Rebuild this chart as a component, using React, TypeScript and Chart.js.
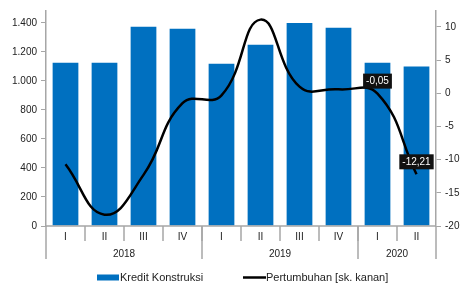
import React, { useEffect, useRef } from "react";
import { Chart, registerables } from "chart.js";

Chart.register(...registerables);

const quarters = ["I", "II", "III", "IV", "I", "II", "III", "IV", "I", "II"];
const years = ["2018", "2019", "2020"];
const yearSpans = [4, 4, 2];
const kredit = [1125, 1125, 1373, 1360, 1119, 1250, 1400, 1366, 1125, 1100];
const pertumbuhan = [-10.7, -18.3, -12.3, -1.5, -0.3, 11.1, 1.0, 0.6, -0.05, -12.21];
const labelledPoints = [8, 9];
const pointLabels = ["-0,05", "-12,21"];
const legendLabels = ["Kredit Konstruksi", "Pertumbuhan [sk. kanan]"];

const FONT = "'Liberation Sans', Arial, sans-serif";
const BLUE = "#0070C0";
const AXIS = "#a6a6a6";

const decorPlugin = {
  id: "decor",
  afterDraw(chart: any) {
    const ctx = chart.ctx;
    const x = chart.scales.x;
    const area = chart.chartArea;
    const bottom = area.bottom;
    ctx.save();
    ctx.strokeStyle = AXIS;
    ctx.lineWidth = 1.5;
    ctx.beginPath();
    ctx.moveTo(area.left, bottom);
    ctx.lineTo(area.right, bottom);
    ctx.stroke();
    const step = (area.right - area.left) / quarters.length;
    for (let i = 1; i < quarters.length; i++) {
      const px = area.left + i * step;
      ctx.beginPath();
      ctx.moveTo(px, bottom);
      ctx.lineTo(px, bottom + 15);
      ctx.stroke();
    }
    let idx = 0;
    const bounds = [0];
    yearSpans.forEach((s) => {
      idx += s;
      bounds.push(idx);
    });
    bounds.forEach((b) => {
      const px = area.left + b * step;
      ctx.beginPath();
      ctx.moveTo(px, bottom);
      ctx.lineTo(px, bottom + 33);
      ctx.stroke();
    });
    ctx.fillStyle = "#222";
    ctx.font = `10px ${FONT}`;
    ctx.textAlign = "center";
    ctx.textBaseline = "middle";
    quarters.forEach((q, i) => {
      ctx.fillText(q, x.getPixelForValue(i), bottom + 11);
    });
    years.forEach((y, i) => {
      const cx = area.left + ((bounds[i] + bounds[i + 1]) / 2) * step;
      ctx.fillText(y, cx, bottom + 28);
    });
    const meta = chart.getDatasetMeta(1);
    labelledPoints.forEach((pi, k) => {
      const pt = meta.data[pi];
      const txt = pointLabels[k];
      ctx.font = `10px ${FONT}`;
      const w = ctx.measureText(txt).width + 6;
      const h = 15;
      const bx = pt.x - w / 2;
      const by = pt.y - 5 - h;
      ctx.fillStyle = "#111";
      ctx.fillRect(bx, by, w, h);
      ctx.fillStyle = "#fff";
      ctx.textAlign = "center";
      ctx.fillText(txt, pt.x, by + h / 2 + 0.5);
    });
    const ly = 277.5;
    ctx.fillStyle = BLUE;
    ctx.fillRect(97, ly - 3, 22, 6);
    ctx.fillStyle = "#222";
    ctx.textAlign = "left";
    ctx.font = `11px ${FONT}`;
    ctx.fillText(legendLabels[0], 120, ly);
    ctx.strokeStyle = "#000";
    ctx.lineWidth = 2.5;
    ctx.beginPath();
    ctx.moveTo(243, ly);
    ctx.lineTo(266, ly);
    ctx.stroke();
    ctx.fillText(legendLabels[1], 266, ly);
    ctx.restore();
  },
};

export default function App() {
  const ref = useRef<HTMLCanvasElement>(null);
  useEffect(() => {
    document.body.style.margin = "0";
    const chart = new Chart(ref.current as HTMLCanvasElement, {
      type: "bar",
      data: {
        labels: quarters.map((q, i) => q + i),
        datasets: [
          {
            type: "bar",
            label: legendLabels[0],
            data: kredit,
            backgroundColor: BLUE,
            yAxisID: "y",
            categoryPercentage: 1,
            barPercentage: 0.66,
            order: 2,
          },
          {
            type: "line",
            label: legendLabels[1],
            data: pertumbuhan,
            borderColor: "#000",
            borderWidth: 2.5,
            pointRadius: 0,
            tension: 0.45,
            yAxisID: "y1",
            order: 1,
          } as any,
        ],
      },
      options: {
        animation: false,
        responsive: false,
        layout: { padding: { top: 11, bottom: 62, left: 0, right: 0 } },
        plugins: { legend: { display: false }, tooltip: { enabled: false } },
        scales: {
          x: { display: false, offset: true },
          y: {
            position: "left",
            min: 0,
            max: 1482,
            afterBuildTicks: (s: any) => {
              s.ticks = s.ticks.filter((t: any) => t.value % 200 === 0);
            },
            afterFit: (s: any) => {
              s.width = 46;
            },
            ticks: {
              stepSize: 200,
              color: "#222",
              font: { family: FONT, size: 10 },
              padding: 4,
              callback: (v: any) => Number(v).toLocaleString("de-DE"),
            },
            grid: { drawOnChartArea: false, tickLength: 5, color: AXIS },
            border: { color: AXIS, width: 1.5 },
          },
          y1: {
            position: "right",
            min: -20,
            max: 12.4,
            afterBuildTicks: (s: any) => {
              s.ticks = s.ticks.filter((t: any) => Math.abs(t.value % 5) < 1e-6);
            },
            afterFit: (s: any) => {
              s.width = 27;
            },
            ticks: {
              stepSize: 5,
              color: "#222",
              font: { family: FONT, size: 10 },
              padding: 4,
            },
            grid: { drawOnChartArea: false, tickLength: 5, color: AXIS },
            border: { color: AXIS, width: 1.5 },
          },
        },
      },
      plugins: [decorPlugin],
    });
    return () => chart.destroy();
  }, []);
  return (
    <div style={{ position: "absolute", left: 0, top: 0, width: 463, height: 288 }}>
      <canvas ref={ref} width={463} height={288} style={{ width: 463, height: 288 }} />
    </div>
  );
}
